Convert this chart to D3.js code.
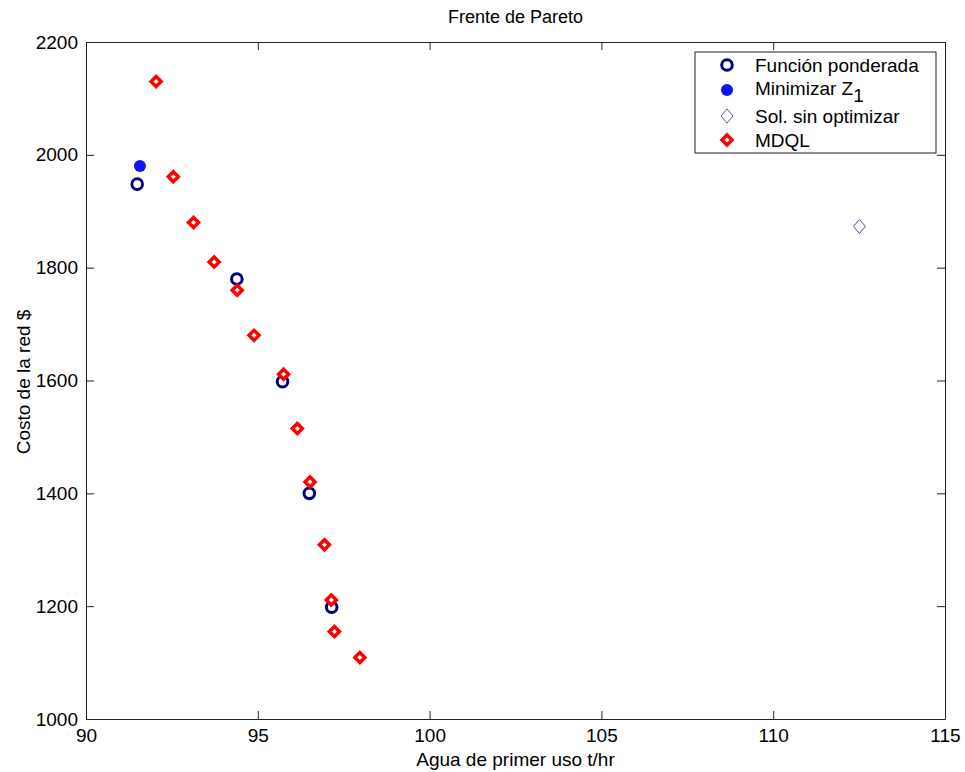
<!DOCTYPE html>
<html>
<head>
<meta charset="utf-8">
<script src="https://cdn.jsdelivr.net/npm/d3@7"></script>
<style>
 body { margin:0; background:#fff; }
 text { font-family: Arial, "Liberation Sans", sans-serif; }
</style>
</head>
<body>
<svg id="chart"></svg>
<script>
// valores
var ponderadaX = [91.49, 94.39, 95.72, 96.50, 97.15]
var ponderadaY = [1948, 1780, 1598, 1400, 1198]

var minZ1X = [91.57]
var minZ1Y = [1980]

var sinOptX = [112.51]
var sinOptY = [1873]

var mdqlX = [92.04, 92.54, 93.13, 93.73, 94.40, 94.89, 95.75, 96.15, 96.52, 96.94, 97.14, 97.23, 97.97]
var mdqlY = [2130, 1961, 1880, 1810, 1760, 1680, 1611, 1515, 1420, 1309, 1211, 1155, 1109]

var xTicks = [90, 95, 100, 105, 110, 115]
var yTicks = [1000, 1200, 1400, 1600, 1800, 2000, 2200]

var legendLabels = ["Función ponderada", "Minimizar Z", "Sol. sin optimizar", "MDQL"]

var screen = {width: 965, height: 772}
var margin = {top: 42, right: 20, bottom: 53, left: 86}
var w = screen.width - margin.left - margin.right
var h = screen.height - margin.top - margin.bottom

var pts = function(xs, ys){
  return xs.map(function(x, i){ return {x: x, y: ys[i]} })
}

var svg = d3.select("#chart")
  .attr("width", screen.width)
  .attr("height", screen.height)

var chart = svg.append("g")
  .attr("transform", "translate(" + margin.left + "," + margin.top + ")")

var xScale = d3.scaleLinear().domain([90, 115]).range([0, w])
var yScale = d3.scaleLinear().domain([1000, 2200]).range([h, 0])

// caja y ticks hacia adentro
var styleAxis = function(g){
  g.attr("font-family", null).attr("font-size", null)
  g.selectAll("path").attr("stroke", "#222").attr("stroke-width", 1)
  g.selectAll("line").attr("stroke", "#222")
  g.selectAll("text").style("font-size", "19px").attr("fill", "#000")
}

chart.append("g")
  .attr("transform", "translate(0," + h + ")")
  .call(d3.axisBottom(xScale).tickValues(xTicks).tickFormat(d3.format("d")).tickSizeInner(-8).tickSizeOuter(0).tickPadding(10))
  .call(styleAxis)
chart.append("g")
  .call(d3.axisTop(xScale).tickValues(xTicks).tickSizeInner(-8).tickSizeOuter(0).tickFormat(""))
  .call(styleAxis)
chart.append("g")
  .call(d3.axisLeft(yScale).tickValues(yTicks).tickFormat(d3.format("d")).tickSizeInner(-8).tickSizeOuter(0).tickPadding(8))
  .call(styleAxis)
chart.append("g")
  .attr("transform", "translate(" + w + ",0)")
  .call(d3.axisRight(yScale).tickValues(yTicks).tickSizeInner(-8).tickSizeOuter(0).tickFormat(""))
  .call(styleAxis)

var diamond = function(r){ return "M0," + (-r) + "L" + r + ",0L0," + r + "L" + (-r) + ",0Z" }
var diamondThin = "M0,-7L6,0L0,7L-6,0Z"

// funcion ponderada
chart.selectAll(".pond")
  .data(pts(ponderadaX, ponderadaY))
  .enter().append("circle")
  .attr("class", "pond")
  .attr("cx", function(d){ return xScale(d.x) })
  .attr("cy", function(d){ return yScale(d.y) })
  .attr("r", 5.3)
  .attr("fill", "none")
  .attr("stroke", "#00007f")
  .attr("stroke-width", 3)

chart.selectAll(".minz")
  .data(pts(minZ1X, minZ1Y))
  .enter().append("circle")
  .attr("class", "minz")
  .attr("cx", function(d){ return xScale(d.x) })
  .attr("cy", function(d){ return yScale(d.y) })
  .attr("r", 6)
  .attr("fill", "#0a14ff")

chart.selectAll(".sinopt")
  .data(pts(sinOptX, sinOptY))
  .enter().append("path")
  .attr("class", "sinopt")
  .attr("transform", function(d){ return "translate(" + xScale(d.x) + "," + yScale(d.y) + ")" })
  .attr("d", diamondThin)
  .attr("fill", "none")
  .attr("stroke", "#4a4aa0")
  .attr("stroke-width", 1)

chart.selectAll(".mdql")
  .data(pts(mdqlX, mdqlY))
  .enter().append("path")
  .attr("class", "mdql")
  .attr("transform", function(d){ return "translate(" + xScale(d.x) + "," + yScale(d.y) + ")" })
  .attr("d", diamond(5))
  .attr("fill", "#fff")
  .attr("stroke", "#ff0000")
  .attr("stroke-width", 3.5)

// leyenda
var legend = svg.append("g")
legend.append("rect")
  .attr("x", 695).attr("y", 52)
  .attr("width", 241).attr("height", 101)
  .attr("fill", "#fff").attr("stroke", "#222").attr("stroke-width", 1)

var rowY = [65, 90, 116, 140]
var textY = [72, 95, 123, 147]
var lx = 727

legend.append("circle").attr("cx", lx).attr("cy", rowY[0]).attr("r", 5.3)
  .attr("fill", "none").attr("stroke", "#00007f").attr("stroke-width", 3)
legend.append("circle").attr("cx", lx).attr("cy", rowY[1]).attr("r", 6).attr("fill", "#0a14ff")
legend.append("path").attr("transform", "translate(" + lx + "," + rowY[2] + ")")
  .attr("d", diamondThin).attr("fill", "none").attr("stroke", "#4a4aa0")
legend.append("path").attr("transform", "translate(" + lx + "," + rowY[3] + ")")
  .attr("d", diamond(5)).attr("fill", "#fff").attr("stroke", "#ff0000").attr("stroke-width", 3.5)

legendLabels.forEach(function(t, i){
  var tx = legend.append("text")
    .attr("x", 755).attr("y", textY[i])
    .style("font-size", "19px")
    .text(t)
  if (i == 1) {
    tx.append("tspan").attr("dy", 7).style("font-size", "19px").text("1")
  }
})

// titulos
svg.append("text")
  .attr("x", margin.left + w / 2).attr("y", 23)
  .attr("text-anchor", "middle")
  .style("font-size", "18px")
  .text("Frente de Pareto")

svg.append("text")
  .attr("x", margin.left + w / 2).attr("y", 766)
  .attr("text-anchor", "middle")
  .style("font-size", "19px")
  .text("Agua de primer uso t/hr")

svg.append("text")
  .attr("transform", "translate(30," + 382 + ") rotate(-90)")
  .attr("text-anchor", "middle")
  .style("font-size", "19px")
  .text("Costo de la red $")
</script>
</body>
</html>
